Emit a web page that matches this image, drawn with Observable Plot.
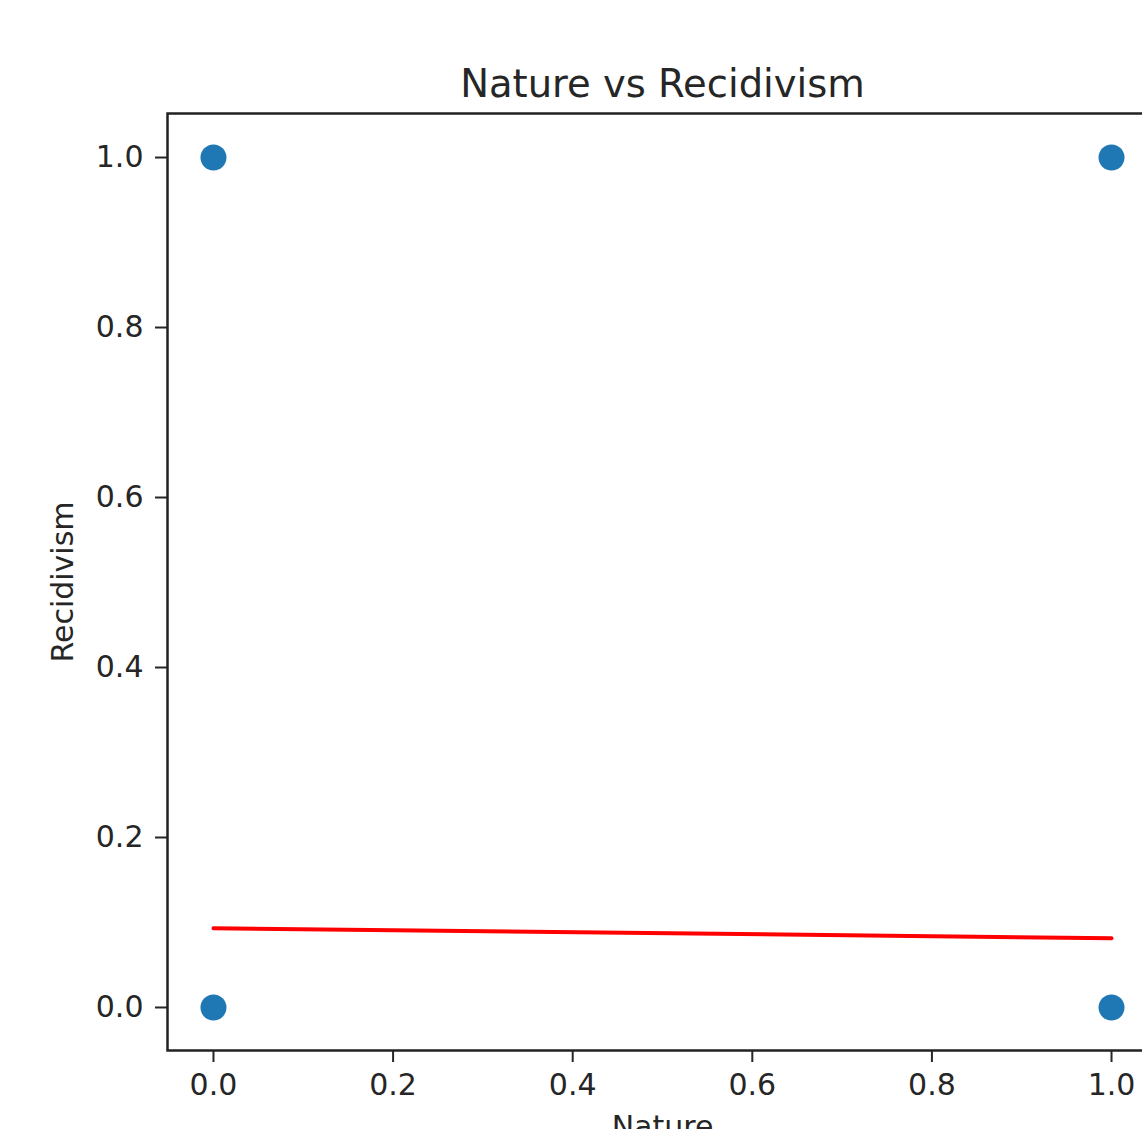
<!DOCTYPE html>
<html>
<head>
<meta charset="utf-8">
<script src="https://cdn.jsdelivr.net/npm/d3@7"></script>
<script src="https://cdn.jsdelivr.net/npm/@observablehq/plot@0.6"></script>
<style>
  html, body { margin: 0; padding: 0; background: white; overflow: hidden; }
  #chart svg { display: block; }
</style>
</head>
<body>
<div id="chart"></div>
<script>
const chartTitle = "Nature vs Recidivism";
const xLabel = "Nature";
const yLabel = "Recidivism";
const natureValues = [0, 0, 1, 1];
const recidivismValues = [1, 0, 1, 0];
const fitX = [0, 1];
const fitY = [0.0933, 0.0815];
const tickValues = [0, 0.2, 0.4, 0.6, 0.8, 1.0];

const points = natureValues.map((x, i) => ({x, y: recidivismValues[i]}));
const fit = fitX.map((x, i) => ({x, y: fitY[i]}));
const fmt = d3.format(".1f");
const textColor = "#262626";

const plot = Plot.plot({
  width: 1142,
  height: 1129,
  marginLeft: 167,
  marginTop: 113,
  marginBottom: 79,
  marginRight: -15,
  style: {fontFamily: "DejaVu Sans", background: "white", overflow: "hidden"},
  x: {domain: [-0.0512, 1.0512]},
  y: {domain: [-0.0506, 1.0518]},
  marks: [
    Plot.axisX({ticks: tickValues, tickFormat: fmt, tickSize: 12, tickPadding: 11, fontSize: 30, label: null, stroke: textColor, strokeWidth: 2, fill: textColor}),
    Plot.axisY({ticks: tickValues, tickFormat: fmt, tickSize: 12, tickPadding: 12, fontSize: 30, label: null, stroke: textColor, strokeWidth: 2, fill: textColor}),
    Plot.line(fit, {x: "x", y: "y", stroke: "red", strokeWidth: 4}),
    Plot.dot(points, {x: "x", y: "y", r: 13, fill: "#1f77b4", stroke: null}),
    Plot.frame({stroke: "#222", strokeWidth: 2.5}),
    Plot.text([chartTitle], {frameAnchor: "top", textAnchor: "middle", dy: -44, fontSize: 38.5, fill: textColor, text: d => d}),
    Plot.text([yLabel], {frameAnchor: "left", textAnchor: "middle", dx: -104, rotate: -90, fontSize: 30, fill: textColor, text: d => d}),
    Plot.text([xLabel], {frameAnchor: "bottom", textAnchor: "middle", dy: 86, fontSize: 30, fill: textColor, text: d => d})
  ]
});
document.getElementById("chart").appendChild(plot);
</script>
</body>
</html>
